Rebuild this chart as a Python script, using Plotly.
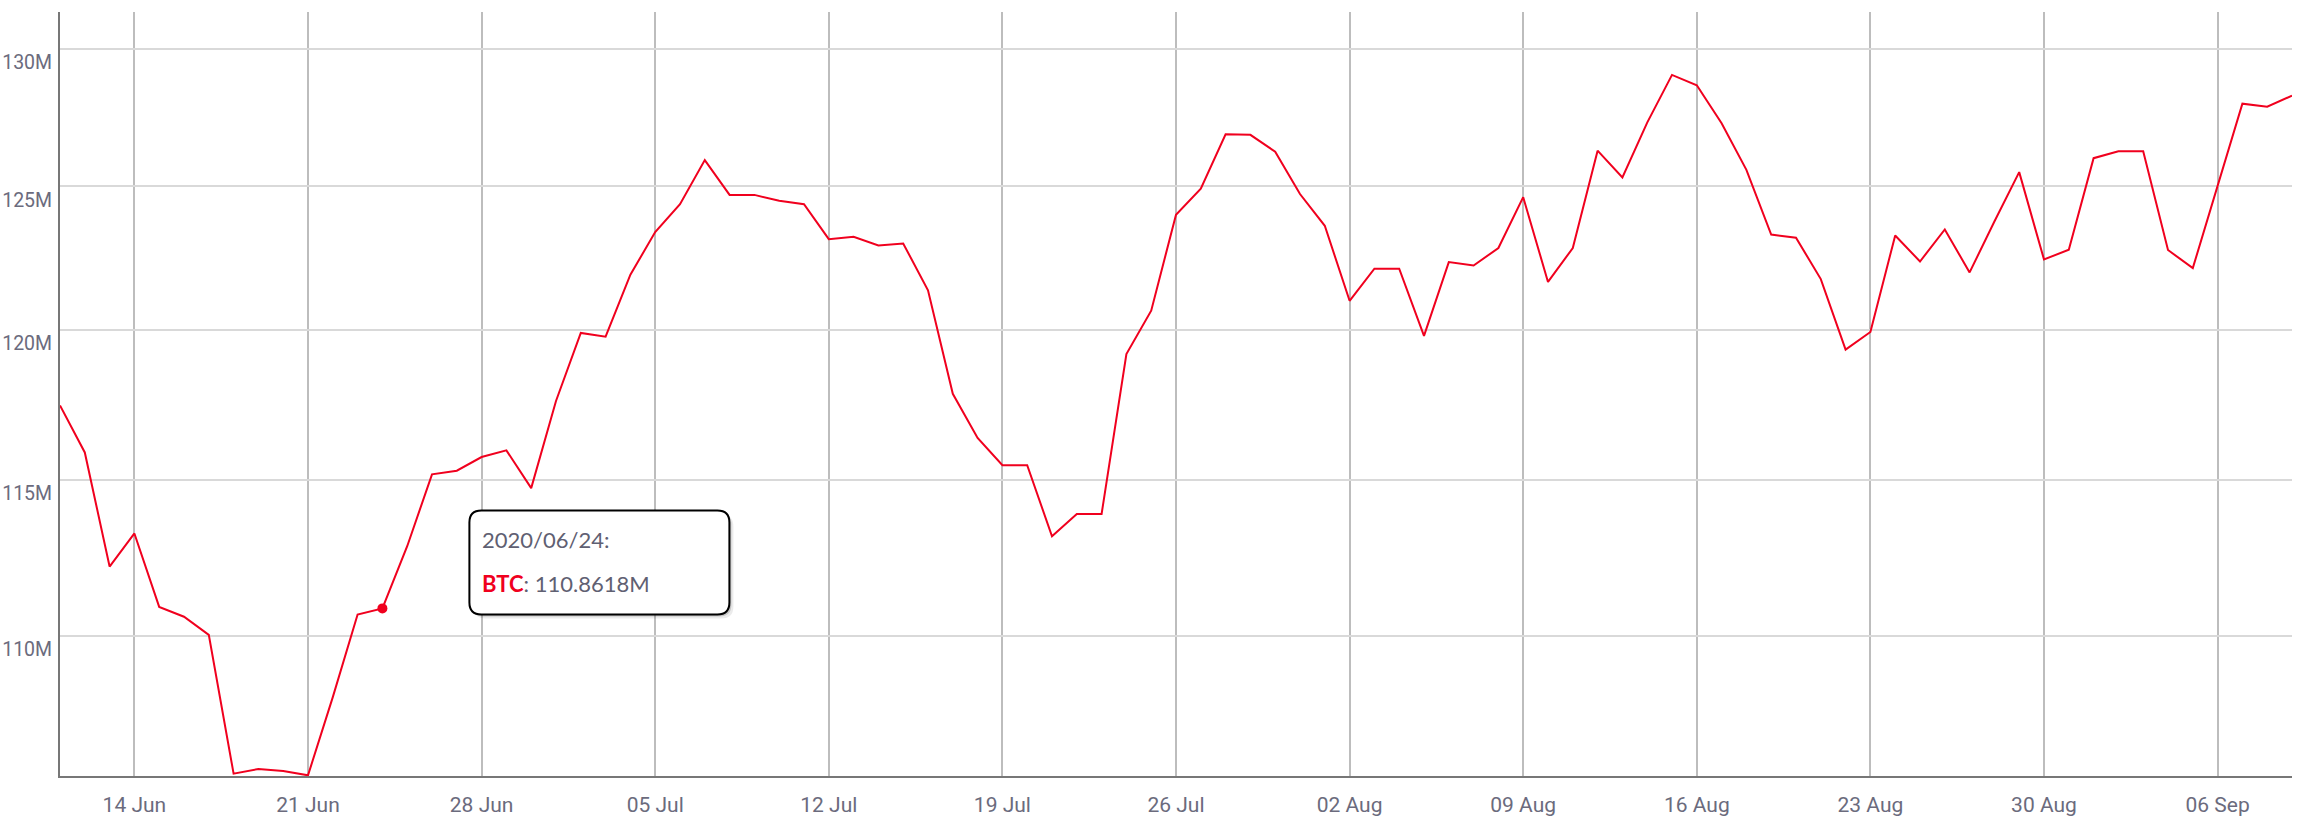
import math
import pandas as pd
import plotly.graph_objects as go

# ---------------- data ----------------
start_date = "2020-06-11"
btc_millions = [
    117.45, 115.89, 112.19, 113.25, 110.91, 110.60, 110.03, 105.77, 105.91, 105.85,
    105.72, 108.10, 110.67, 110.8618, 112.84, 115.17, 115.29, 115.74, 115.96, 114.72,
    117.60, 119.90, 119.77, 121.90, 123.39, 124.37, 125.94, 124.70, 124.70, 124.49,
    124.37, 123.14, 123.22, 122.92, 122.99, 121.36, 117.84, 116.37, 115.47, 115.47,
    113.16, 113.88, 113.88, 119.18, 120.66, 124.00, 124.92, 126.87, 126.85, 126.24,
    124.73, 123.61, 121.00, 122.11, 122.11, 119.80, 122.34, 122.22, 122.83, 124.62,
    121.65, 122.83, 126.28, 125.32, 127.29, 129.03, 128.65, 127.27, 125.59, 123.30,
    123.19, 121.75, 119.33, 119.93, 123.27, 122.36, 123.48, 121.98, 123.76, 125.51,
    122.43, 122.77, 126.01, 126.26, 126.26, 122.76, 122.13, 125.02, 127.98, 127.87,
    128.27,
]
dates = pd.date_range(start_date, periods=len(btc_millions), freq="D")
values = [v * 1e6 for v in btc_millions]

y_tick_values = [110e6, 115e6, 120e6, 125e6, 130e6]
y_tick_labels = ["110M", "115M", "120M", "125M", "130M"]
x_first_tick = "2020-06-14"

series_name = "BTC"
highlight_index = 13  # 2020/06/24

# ---------------- style / layout ----------------
RED = "#F0001E"
LABEL = "#6b6b7d"
W, H = 2310, 828
ML, MR, MT, MB = 60, 18, 12, 52
PW, PH = W - ML - MR, H - MT - MB
y_min, y_max = 105.70e6, 131.36e6

fig = go.Figure()
fig.add_trace(go.Scatter(
    x=dates, y=values, mode="lines", name=series_name,
    line=dict(color=RED, width=2), hoverinfo="skip",
))
hx = dates[highlight_index]
hy = values[highlight_index]
fig.add_trace(go.Scatter(
    x=[hx], y=[hy], mode="markers",
    marker=dict(color=RED, size=10), hoverinfo="skip",
))

# position of highlighted point in paper fractions (via the axis scales)
px = (hx - dates[0]) / (dates[-1] - dates[0])
py = (math.log10(hy) - math.log10(y_min)) / (math.log10(y_max) - math.log10(y_min))

# tooltip box offsets in pixels relative to point (right, up)
bx0, bx1, by0, by1, rad = 87, 347, -6, 98, 12

def rrect(dx0, dx1, dy0, dy1, r):
    X = lambda d: px + d / PW
    Y = lambda d: py + d / PH
    x0, x1, y0, y1 = X(dx0), X(dx1), Y(dy0), Y(dy1)
    rx, ry = r / PW, r / PH
    return (f"M{x0+rx},{y0} L{x1-rx},{y0} Q{x1},{y0} {x1},{y0+ry} "
            f"L{x1},{y1-ry} Q{x1},{y1} {x1-rx},{y1} L{x0+rx},{y1} "
            f"Q{x0},{y1} {x0},{y1-ry} L{x0},{y0+ry} Q{x0},{y0} {x0+rx},{y0} Z")

common = dict(type="path", xref="paper", yref="paper", layer="above")
shapes = [
    dict(path=rrect(bx0 + 4, bx1 + 4, by0 - 4, by1 - 4, rad),
         fillcolor="rgba(0,0,0,0.08)", line=dict(width=0), **common),
    dict(path=rrect(bx0 + 2, bx1 + 2, by0 - 2, by1 - 2, rad),
         fillcolor="rgba(0,0,0,0.16)", line=dict(width=0), **common),
    dict(path=rrect(bx0, bx1, by0, by1, rad),
         fillcolor="#ffffff", line=dict(color="#000000", width=2), **common),
]

tip_font = dict(family="Lato, 'Open Sans', sans-serif", size=22, color="#5f6072")
annotations = [
    dict(x=hx, y=math.log10(hy), xref="x", yref="y", showarrow=False,
         text=hx.strftime("%Y/%m/%d") + ":", xanchor="left", yanchor="middle",
         xshift=98, yshift=69, font=tip_font),
    dict(x=hx, y=math.log10(hy), xref="x", yref="y", showarrow=False,
         text=f"<b><span style='color:{RED}'>{series_name}</span></b>: {hy/1e6:.4f}M",
         xanchor="left", yanchor="middle", xshift=98, yshift=25, font=tip_font),
]

fig.update_layout(
    width=W, height=H,
    margin=dict(l=ML, r=MR, t=MT, b=MB, autoexpand=False),
    paper_bgcolor="white", plot_bgcolor="white",
    showlegend=False,
    shapes=shapes, annotations=annotations,
    hovermode=False,
)
fig.update_xaxes(
    type="date",
    range=[dates[0], dates[-1]],
    tick0=x_first_tick, dtick=7 * 24 * 3600 * 1000,
    tickformat="%d %b",
    showgrid=True, gridcolor="#bdbdbd", gridwidth=2,
    showline=True, linecolor="#777777", linewidth=2,
    ticks="", ticklabelstandoff=9, automargin=False,
    tickfont=dict(family="Roboto", size=21, color=LABEL),
    zeroline=False,
)
fig.update_yaxes(
    type="log",
    range=[math.log10(y_min), math.log10(y_max)],
    tickvals=y_tick_values, ticktext=y_tick_labels,
    ticklabelposition="outside bottom",
    showgrid=True, gridcolor="#d9d9d9", gridwidth=2,
    showline=True, linecolor="#777777", linewidth=2,
    ticks="", ticklabelstandoff=2, automargin=False,
    tickfont=dict(family="Roboto", size=19.5, color=LABEL),
    zeroline=False,
)

fig.write_html(
    "out.html",
    config={"displayModeBar": False, "staticPlot": True},
    post_script="document.body.style.margin='0';document.body.style.overflow='hidden';",
)
